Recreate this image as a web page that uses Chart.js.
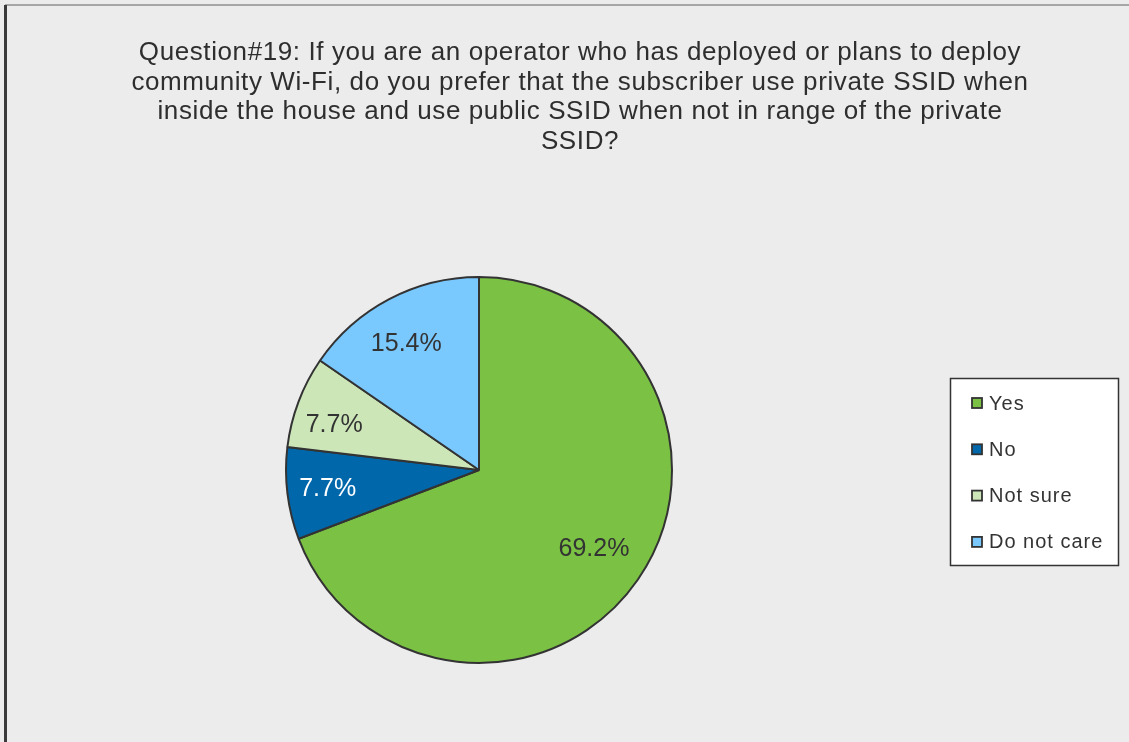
<!DOCTYPE html>
<html>
<head>
<meta charset="utf-8">
<script src="https://cdn.jsdelivr.net/npm/chart.js@4.4.1/dist/chart.umd.min.js"></script>
<style>
  html, body { margin: 0; padding: 0; background: #ececec; }
  #wrap { position: relative; width: 1129px; height: 742px; }
  canvas { display: block; }
</style>
</head>
<body>
<div id="wrap"><canvas id="c" width="1129" height="742"></canvas></div>
<script>
// Survey answers and their shares (percent)
const categories = ['Yes', 'No', 'Not sure', 'Do not care'];
const shares = [69.2, 7.7, 7.7, 15.4];
const sliceColors = ['#7bc143', '#0067aa', '#cce6b7', '#79c8fe'];
const labelColors = ['#333333', '#ffffff', '#333333', '#333333'];
const titleLines = [
  'Question#19: If you are an operator who has deployed or plans to deploy',
  'community Wi-Fi, do you prefer that the subscriber use private SSID when',
  'inside the house and use public SSID when not in range of the private',
  'SSID?'
];

const FONT = '"Liberation Sans", Arial, sans-serif';
const INK = '#333333';

// Frame lines and the wrapped question title
const frameAndTitle = {
  id: 'frameAndTitle',
  beforeDraw(chart) {
    const ctx = chart.ctx;
    ctx.save();
    ctx.fillStyle = '#ececec';
    ctx.fillRect(0, 0, chart.width, chart.height);
    ctx.fillStyle = '#a6a6a6';
    ctx.fillRect(5, 4, chart.width - 5, 2);
    ctx.fillStyle = '#3a3a3a';
    ctx.fillRect(4, 5, 3, chart.height - 5);
    ctx.restore();
  },
  afterDraw(chart) {
    const ctx = chart.ctx;
    ctx.save();
    ctx.fillStyle = '#2e2e2e';
    ctx.font = '26px ' + FONT;
    ctx.letterSpacing = '0.6px';
    ctx.textAlign = 'center';
    ctx.textBaseline = 'alphabetic';
    titleLines.forEach((t, i) => ctx.fillText(t, 580, 60 + i * 29.6));
    ctx.restore();
  }
};

// Percent labels placed inside each slice
const sliceLabels = {
  id: 'sliceLabels',
  afterDatasetsDraw(chart, args, opts) {
    const ctx = chart.ctx;
    const meta = chart.getDatasetMeta(0);
    ctx.save();
    ctx.font = '25px ' + FONT;
    ctx.textAlign = 'center';
    ctx.textBaseline = 'middle';
    meta.data.forEach((arc, i) => {
      const p = arc.getProps(['x', 'y', 'startAngle', 'endAngle', 'outerRadius'], true);
      const a = p.startAngle + (p.endAngle - p.startAngle) * opts.along[i];
      const r = p.outerRadius * opts.radial[i];
      ctx.fillStyle = labelColors[i];
      ctx.fillText(shares[i].toFixed(1) + '%', p.x + Math.cos(a) * r, p.y + Math.sin(a) * r);
    });
    ctx.restore();
  }
};

// Boxed legend at the right
const boxedLegend = {
  id: 'boxedLegend',
  afterDraw(chart) {
    const ctx = chart.ctx;
    const x = 950.5, y = 378.5, w = 168, h = 187;
    ctx.save();
    ctx.fillStyle = '#ffffff';
    ctx.fillRect(x, y, w, h);
    ctx.strokeStyle = '#333333';
    ctx.lineWidth = 1.5;
    ctx.strokeRect(x, y, w, h);
    ctx.font = '20px ' + FONT;
    ctx.letterSpacing = '1px';
    ctx.textBaseline = 'middle';
    ctx.textAlign = 'left';
    categories.forEach((name, i) => {
      const cy = 403 + i * 46.3;
      ctx.fillStyle = sliceColors[i];
      ctx.fillRect(972, cy - 5, 10, 10);
      ctx.strokeStyle = '#333333';
      ctx.lineWidth = 1.8;
      ctx.strokeRect(972, cy - 5, 10, 10);
      ctx.fillStyle = INK;
      ctx.fillText(name, 989, cy + 1);
    });
    ctx.restore();
  }
};

new Chart(document.getElementById('c'), {
  type: 'pie',
  data: {
    labels: categories,
    datasets: [{
      data: shares,
      backgroundColor: sliceColors,
      borderColor: '#333333',
      borderWidth: 2,
      borderAlign: 'center'
    }]
  },
  options: {
    responsive: false,
    animation: false,
    events: [],
    layout: { padding: { top: 276, bottom: 78, left: 285, right: 456 } },
    plugins: {
      legend: { display: false },
      title: { display: false },
      tooltip: { enabled: false },
      sliceLabels: { radial: [0.723, 0.79, 0.785, 0.755], along: [0.5, 0.5, 0.37, 0.46] }
    }
  },
  plugins: [frameAndTitle, sliceLabels, boxedLegend]
});
</script>
</body>
</html>
